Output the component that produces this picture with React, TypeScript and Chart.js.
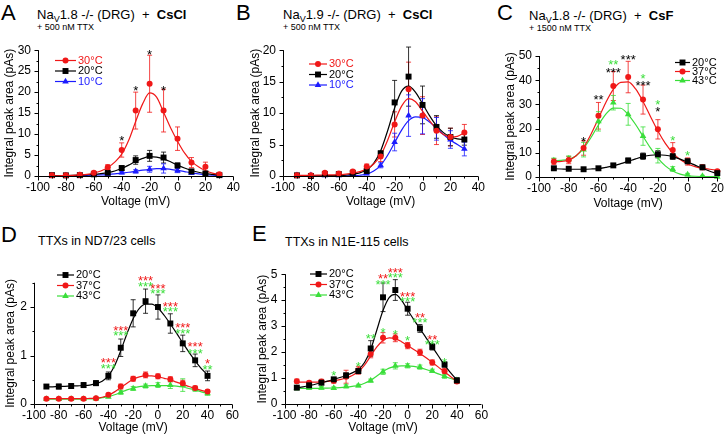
import React, { useEffect, useRef } from 'react';
import { Chart, registerables } from 'chart.js';
Chart.register(...registerables);

const FONT = '"Liberation Sans", Arial, Helvetica, sans-serif';
const RED = '#f01818';
const BLACK = '#000000';
const BLUE = '#1c1cff';
const GREEN = '#3ade3a';

// ---------------- Panel A : Nav1.8 -/- (DRG) + CsCl ----------------
const A_VOLTS = [-90, -80, -70, -60, -50, -40, -30, -20, -10, 0, 10, 20, 30];
const A_30C = [0.2, 0.2, 0.3, 0.8, 2.1, 6.2, 15.6, 22.0, 15.6, 8.9, 3.2, 2.2, 0.4];
const A_30C_ERR = [0.1, 0.1, 0.2, 0.3, 0.6, 1.7, 4.4, 6.8, 5.1, 2.8, 1.2, 1.1, 0.3];
const A_20C = [0.2, 0.15, 0.2, 0.4, 0.8, 1.9, 3.8, 4.8, 4.4, 2.5, 1.1, 0.6, 0.2];
const A_20C_ERR = [0.1, 0.1, 0.1, 0.2, 0.3, 0.5, 1.0, 1.3, 1.3, 0.6, 0.4, 0.3, 0.1];
const A_10C = [0.1, 0.1, 0.15, 0.2, 0.4, 0.8, 1.1, 1.6, 1.8, 1.3, 0.7, 0.3, 0.1];
const A_10C_ERR = [0.1, 0.1, 0.1, 0.1, 0.2, 0.3, 0.4, 0.7, 1.1, 0.5, 0.3, 0.2, 0.1];
const A_FIT_VOLTS = [-90, -85, -80, -75, -70, -65, -60, -55, -50, -45, -40, -35, -30, -25, -20, -15, -10, -5, 0, 5, 10, 15, 20, 25, 30];
const A_30C_FIT = [0.0, 0.05, 0.1, 0.15, 0.25, 0.4, 0.7, 1.2, 2.0, 3.3, 5.2, 8.5, 13.0, 17.2, 19.8, 18.8, 15.2, 11.5, 8.3, 5.5, 3.5, 2.2, 1.3, 0.7, 0.4];
const A_20C_FIT = [0.1, 0.1, 0.12, 0.15, 0.2, 0.28, 0.38, 0.55, 0.8, 1.2, 1.8, 2.6, 3.5, 4.2, 4.6, 4.5, 4.1, 3.4, 2.6, 1.9, 1.3, 0.9, 0.6, 0.4, 0.2];
const A_10C_FIT = [0.05, 0.05, 0.06, 0.07, 0.1, 0.13, 0.18, 0.25, 0.35, 0.5, 0.7, 0.9, 1.15, 1.4, 1.6, 1.75, 1.75, 1.6, 1.35, 1.05, 0.75, 0.5, 0.3, 0.18, 0.1];
const A_STAR_X = [-40, -30, -20, -10];
const A_STAR_Y = [9.2, 21.0, 29.7, 21.0];
const A_STAR_TEXT = ['*', '*', '*', '*'];

// ---------------- Panel B : Nav1.9 -/- (DRG) + CsCl ----------------
const B_VOLTS = [-90, -80, -70, -60, -50, -40, -30, -20, -10, 0, 10, 20, 30];
const B_30C = [0.1, 0.1, 0.5, 0.4, 0.7, 1.5, 3.1, 8.2, 13.8, 9.6, 7.2, 6.2, 6.9];
const B_30C_ERR = [0.1, 0.1, 0.2, 0.2, 0.2, 0.4, 0.8, 2.0, 4.3, 3.0, 2.2, 1.4, 1.3];
const B_20C = [0.1, 0.0, 0.3, 0.3, 0.5, 0.8, 3.6, 11.7, 15.8, 11.3, 7.8, 6.2, 5.8];
const B_20C_ERR = [0.1, 0.1, 0.1, 0.1, 0.2, 0.3, 0.4, 3.5, 4.7, 3.0, 1.8, 1.4, 0.9];
const B_10C = [0.1, 0.1, 0.1, 0.1, 0.2, 0.4, 1.7, 5.4, 9.6, 9.5, 7.5, 5.8, 4.3];
const B_10C_ERR = [0.1, 0.1, 0.1, 0.1, 0.1, 0.2, 0.4, 1.4, 3.3, 2.8, 1.8, 1.4, 1.1];
const B_FIT_VOLTS = [-90, -85, -80, -75, -70, -65, -60, -55, -50, -45, -40, -35, -30, -25, -20, -15, -10, -5, 0, 5, 10, 15, 20, 25, 30];
const B_30C_FIT = [0.1, 0.1, 0.12, 0.14, 0.16, 0.18, 0.2, 0.3, 0.45, 0.7, 1.1, 1.9, 3.3, 5.7, 8.6, 11.1, 12.3, 11.8, 10.3, 8.8, 7.5, 6.6, 6.2, 6.3, 6.9];
const B_20C_FIT = [0, 0, 0, 0.02, 0.05, 0.07, 0.1, 0.15, 0.25, 0.5, 1.0, 2.0, 4.0, 7.2, 10.8, 13.5, 14.3, 13.3, 11.5, 9.6, 8.0, 6.9, 6.2, 5.9, 5.8];
const B_10C_FIT = [0, 0, 0, 0, 0, 0, 0, 0.02, 0.05, 0.12, 0.3, 0.8, 1.7, 3.3, 5.3, 7.3, 8.8, 9.4, 9.3, 8.6, 7.6, 6.6, 5.7, 5.0, 4.3];

// ---------------- Panel C : Nav1.8 -/- (DRG) + CsF ----------------
const C_VOLTS = [-90, -80, -70, -60, -50, -40, -30, -20, -10, 0, 10, 20];
const C_20C = [3.6, 3.4, 3.2, 3.6, 4.8, 6.8, 8.6, 9.4, 8.5, 6.5, 4.0, 1.6];
const C_20C_ERR = [0.5, 0.5, 0.4, 0.5, 0.7, 1.0, 1.3, 1.5, 1.2, 1.0, 0.8, 0.5];
const C_37C = [6.4, 7.0, 12.0, 25.3, 37.6, 41.3, 32.0, 19.7, 11.2, 6.4, 4.0, 2.4];
const C_37C_ERR = [1.2, 1.5, 3.0, 5.5, 6.0, 6.5, 6.0, 4.0, 3.0, 1.5, 1.0, 0.6];
const C_43C = [6.8, 7.5, 11.3, 23.0, 30.7, 25.9, 16.9, 8.8, 3.3, 1.0, 0.4, 0.1];
const C_43C_ERR = [1.0, 1.2, 3.0, 4.0, 3.0, 4.5, 3.8, 3.0, 1.0, 0.5, 0.3, 0.2];
const C_FIT_VOLTS = [-90, -85, -80, -75, -70, -65, -60, -55, -50, -45, -40, -35, -30, -25, -20, -15, -10, -5, 0, 5, 10, 15, 20];
const C_20C_FIT = [3.4, 3.3, 3.2, 3.2, 3.2, 3.3, 3.5, 4.0, 4.6, 5.5, 6.5, 7.5, 8.4, 9.0, 9.2, 9.0, 8.4, 7.4, 6.2, 4.9, 3.6, 2.4, 1.4];
const C_37C_FIT = [6.3, 6.4, 7.0, 8.8, 12.3, 17.7, 24.2, 30.8, 36.2, 39.1, 39.3, 36.4, 31.2, 25.0, 19.0, 13.9, 10.0, 7.2, 5.4, 4.3, 3.6, 3.2, 2.8];
const C_43C_FIT = [6.8, 6.9, 7.3, 8.8, 11.8, 16.3, 21.5, 26.0, 28.5, 28.4, 25.8, 21.7, 16.8, 12.0, 7.8, 4.6, 2.5, 1.2, 0.6, 0.3, 0.2, 0.15, 0.1];
const C_STAR_X = [-70, -60, -50, -50, -40, -30, -30, -20, -20, -10, 0];
const C_STAR_Y = [16.0, 33.2, 47.6, 44.5, 50.0, 42.1, 39.1, 31.1, 28.1, 16.4, 10.0];
const C_STAR_TEXT = ['*', '**', '**', '***', '***', '*', '***', '*', '*', '*', '*'];
const C_STAR_SERIES = ['k', 'k', 'g', 'k', 'k', 'g', 'k', 'g', 'k', 'g', 'g'];

// ---------------- Panel D : TTXs in ND7/23 cells ----------------
const D_VOLTS = [-90, -80, -70, -60, -50, -40, -30, -20, -10, 0, 10, 20, 30, 40];
const D_20C = [0.36, 0.36, 0.37, 0.39, 0.43, 0.58, 1.16, 1.87, 2.12, 2.0, 1.66, 1.25, 0.9, 0.58];
const D_20C_ERR = [0.04, 0.05, 0.05, 0.05, 0.05, 0.08, 0.18, 0.28, 0.25, 0.25, 0.2, 0.17, 0.13, 0.1];
const D_37C = [0.11, 0.11, 0.11, 0.11, 0.12, 0.19, 0.36, 0.52, 0.6, 0.57, 0.51, 0.43, 0.33, 0.26];
const D_37C_ERR = [0.02, 0.02, 0.02, 0.02, 0.02, 0.03, 0.05, 0.05, 0.06, 0.05, 0.05, 0.06, 0.04, 0.03];
const D_43C = [0.1, 0.1, 0.1, 0.1, 0.11, 0.15, 0.24, 0.32, 0.37, 0.39, 0.39, 0.39, 0.31, 0.22];
const D_43C_ERR = [0.02, 0.02, 0.02, 0.02, 0.02, 0.02, 0.04, 0.04, 0.04, 0.05, 0.07, 0.13, 0.05, 0.04];
const D_FIT_VOLTS = [-90, -85, -80, -75, -70, -65, -60, -55, -50, -45, -40, -35, -30, -25, -20, -15, -10, -5, 0, 5, 10, 15, 20, 25, 30, 35, 40];
const D_20C_FIT = [0.35, 0.355, 0.36, 0.365, 0.37, 0.375, 0.38, 0.39, 0.42, 0.47, 0.58, 0.79, 1.1, 1.45, 1.76, 1.97, 2.06, 2.06, 1.98, 1.83, 1.65, 1.46, 1.26, 1.07, 0.89, 0.73, 0.6];
const D_37C_FIT = [0.11, 0.11, 0.11, 0.11, 0.11, 0.11, 0.11, 0.115, 0.12, 0.14, 0.18, 0.25, 0.34, 0.43, 0.51, 0.56, 0.58, 0.58, 0.56, 0.53, 0.5, 0.45, 0.41, 0.36, 0.32, 0.28, 0.25];
const D_43C_FIT = [0.1, 0.1, 0.1, 0.1, 0.1, 0.1, 0.1, 0.105, 0.11, 0.13, 0.15, 0.19, 0.24, 0.29, 0.33, 0.36, 0.37, 0.38, 0.38, 0.38, 0.38, 0.37, 0.35, 0.32, 0.29, 0.25, 0.22];
const D_STAR_X = [-40, -40, -30, -30, -10, -10, 0, 0, 10, 10, 20, 20, 30, 30, 40, 40];
const D_STAR_Y = [0.91, 0.79, 1.58, 1.47, 2.61, 2.49, 2.44, 2.33, 2.08, 1.96, 1.63, 1.51, 1.24, 1.11, 0.89, 0.78];
const D_STAR_TEXT = ['***', '***', '***', '***', '***', '***', '***', '***', '***', '***', '***', '***', '***', '***', '*', '**'];
const D_STAR_SERIES = ['r', 'g', 'r', 'g', 'r', 'g', 'r', 'g', 'r', 'g', 'r', 'g', 'r', 'g', 'r', 'g'];

// ---------------- Panel E : TTXs in N1E-115 cells ----------------
const E_VOLTS = [-90, -80, -70, -60, -50, -40, -30, -20, -10, 0, 10, 20, 30, 40];
const E_20C = [0.63, 0.72, 0.82, 0.95, 1.1, 1.27, 2.14, 4.11, 4.39, 3.67, 2.91, 2.2, 1.52, 0.91];
const E_20C_ERR = [0.05, 0.05, 0.06, 0.07, 0.1, 0.1, 0.3, 0.55, 0.4, 0.25, 0.15, 0.12, 0.1, 0.1];
const E_37C = [0.88, 0.82, 0.87, 0.9, 1.05, 1.3, 1.93, 2.55, 2.55, 2.25, 1.99, 1.6, 1.26, 0.87];
const E_37C_ERR = [0.08, 0.06, 0.08, 0.1, 0.25, 0.15, 0.15, 0.2, 0.15, 0.12, 0.12, 0.1, 0.1, 0.08];
const E_43C = [0.61, 0.62, 0.62, 0.61, 0.68, 0.71, 0.9, 1.24, 1.47, 1.47, 1.42, 1.28, 1.07, 0.91];
const E_43C_ERR = [0.07, 0.06, 0.05, 0.05, 0.06, 0.05, 0.06, 0.1, 0.12, 0.08, 0.08, 0.06, 0.08, 0.07];
const E_FIT_VOLTS = [-90, -85, -80, -75, -70, -65, -60, -55, -50, -45, -40, -35, -30, -25, -20, -15, -10, -5, 0, 5, 10, 15, 20, 25, 30, 35, 40];
const E_20C_FIT = [0.62, 0.66, 0.71, 0.76, 0.82, 0.88, 0.95, 1.02, 1.1, 1.2, 1.33, 1.6, 2.1, 2.85, 3.6, 4.1, 4.22, 4.0, 3.62, 3.25, 2.9, 2.55, 2.2, 1.85, 1.5, 1.2, 0.92];
const E_37C_FIT = [0.85, 0.84, 0.84, 0.84, 0.85, 0.87, 0.9, 0.94, 1.0, 1.1, 1.25, 1.5, 1.85, 2.2, 2.45, 2.55, 2.52, 2.4, 2.25, 2.1, 1.95, 1.78, 1.6, 1.42, 1.24, 1.05, 0.88];
const E_43C_FIT = [0.6, 0.6, 0.6, 0.6, 0.61, 0.61, 0.62, 0.63, 0.65, 0.68, 0.72, 0.8, 0.92, 1.08, 1.25, 1.38, 1.45, 1.47, 1.47, 1.45, 1.4, 1.33, 1.25, 1.16, 1.07, 0.98, 0.9];
const E_STAR_X = [-60, -40, -30, -20, -20, -20, -10, -10, -10, 0, 0, 0, 10, 10, 20, 20, 30];
const E_STAR_Y = [1.23, 1.57, 2.64, 2.87, 4.96, 4.71, 2.81, 5.17, 5.0, 2.55, 4.26, 4.05, 3.44, 3.25, 2.59, 2.39, 1.73];
const E_STAR_TEXT = ['*', '*', '**', '*', '**', '***', '*', '***', '***', '*', '***', '***', '**', '***', '**', '***', '*'];
const E_STAR_SERIES = ['g', 'g', 'g', 'g', 'r', 'g', 'g', 'r', 'g', 'g', 'r', 'g', 'r', 'g', 'r', 'g', 'g'];

const SERIES_COLOR: Record<string, string> = { r: RED, g: GREEN, k: BLACK, b: BLUE };

type Series = { label: string; color: string; style: 'circle' | 'rect' | 'triangle'; values: number[]; errors: number[]; fit: number[] };
type Note = { x: number; y: number; text: string; color: string };
type PanelCfg = {
  box: { left: number; top: number; width: number; height: number };
  padTop: number; padRight: number; yW: number; xH: number;
  xMin: number; xMax: number; xMajor: number; xMinor: number;
  yMin: number; yMax: number; yMajor: number; yMinor: number;
  volts: number[]; fitVolts: number[]; series: Series[]; notes: Note[];
  legend: { x1: number; x2: number; textX: number; rows: number[]; colored: boolean };
};

function notes(xs: number[], ys: number[], texts: string[], keys: string[] | null): Note[] {
  return xs.map((x, i) => ({ x, y: ys[i], text: texts[i], color: keys ? SERIES_COLOR[keys[i]] : BLACK }));
}

function alpha(hex: string, a: number) {
  const n = parseInt(hex.slice(1), 16);
  return `rgba(${(n >> 16) & 255},${(n >> 8) & 255},${n & 255},${a})`;
}

function drawMarker(ctx: CanvasRenderingContext2D, style: string, x: number, y: number, r: number) {
  ctx.beginPath();
  if (style === 'circle') {
    ctx.arc(x, y, r, 0, Math.PI * 2);
  } else if (style === 'rect') {
    const s = r * Math.SQRT1_2;
    ctx.rect(x - s, y - s, 2 * s, 2 * s);
  } else {
    ctx.moveTo(x, y - r);
    ctx.lineTo(x + r * 0.866, y + r * 0.5);
    ctx.lineTo(x - r * 0.866, y + r * 0.5);
    ctx.closePath();
  }
  ctx.fill();
}

const radiusFor = (style: string) => (style === 'rect' ? 4.2 : style === 'triangle' ? 3.8 : 3);

function makePlugin(cfg: PanelCfg) {
  return {
    id: 'decor',
    beforeDatasetsDraw(chart: any) {
      const ctx = chart.ctx as CanvasRenderingContext2D;
      const xs = chart.scales.x;
      const ys = chart.scales.y;
      cfg.series.forEach((s) => {
        ctx.save();
        ctx.strokeStyle = alpha(s.color, 0.8);
        ctx.lineWidth = 1;
        ctx.beginPath();
        cfg.volts.forEach((v, j) => {
          const px = xs.getPixelForValue(v);
          const y1 = ys.getPixelForValue(s.values[j] + s.errors[j]);
          const y2 = ys.getPixelForValue(s.values[j] - s.errors[j]);
          ctx.moveTo(px, y1); ctx.lineTo(px, y2);
          ctx.moveTo(px - 2.5, y1); ctx.lineTo(px + 2.5, y1);
          ctx.moveTo(px - 2.5, y2); ctx.lineTo(px + 2.5, y2);
        });
        ctx.stroke();
        ctx.restore();
      });
    },
    afterDraw(chart: any) {
      const ctx = chart.ctx as CanvasRenderingContext2D;
      const xs = chart.scales.x;
      const ys = chart.scales.y;
      const { left, right, top, bottom } = chart.chartArea;
      ctx.save();
      // axes
      ctx.strokeStyle = '#000';
      ctx.lineWidth = 1;
      ctx.beginPath();
      const L = Math.round(left) + 0.5;
      const B = Math.round(bottom) + 0.5;
      ctx.moveTo(L, top); ctx.lineTo(L, B); ctx.lineTo(right, B);
      // x ticks
      const nx = Math.round((cfg.xMax - cfg.xMin) / cfg.xMinor);
      for (let i = 0; i <= nx; i++) {
        const v = cfg.xMin + i * cfg.xMinor;
        const major = Math.abs(v / cfg.xMajor - Math.round(v / cfg.xMajor)) < 1e-6;
        const px = Math.round(xs.getPixelForValue(v)) + 0.5;
        ctx.moveTo(px, B); ctx.lineTo(px, B + (major ? 4 : 2));
      }
      const ny = Math.round((cfg.yMax - cfg.yMin) / cfg.yMinor);
      for (let i = 0; i <= ny; i++) {
        const v = cfg.yMin + i * cfg.yMinor;
        const major = Math.abs(v / cfg.yMajor - Math.round(v / cfg.yMajor)) < 1e-6;
        const py = Math.round(ys.getPixelForValue(v)) + 0.5;
        ctx.moveTo(L, py); ctx.lineTo(L - (major ? 4 : 2), py);
      }
      ctx.stroke();
      // significance stars
      ctx.font = `13px ${FONT}`;
      ctx.textAlign = 'center';
      ctx.textBaseline = 'alphabetic';
      cfg.notes.forEach((n) => {
        ctx.fillStyle = n.color;
        ctx.fillText(n.text, xs.getPixelForValue(n.x), ys.getPixelForValue(n.y) + 7.5);
      });
      // legend
      const lg = cfg.legend;
      ctx.font = `11px ${FONT}`;
      ctx.textAlign = 'left';
      ctx.textBaseline = 'middle';
      cfg.series.forEach((s, i) => {
        const y = lg.rows[i] - cfg.box.top;
        const x1 = lg.x1 - cfg.box.left;
        const x2 = lg.x2 - cfg.box.left;
        ctx.strokeStyle = s.color;
        ctx.lineWidth = 1.2;
        ctx.beginPath(); ctx.moveTo(x1, y); ctx.lineTo(x2, y); ctx.stroke();
        ctx.fillStyle = s.color;
        drawMarker(ctx, s.style, (x1 + x2) / 2, y, radiusFor(s.style));
        ctx.fillStyle = lg.colored ? s.color : BLACK;
        ctx.fillText(s.label, lg.textX - cfg.box.left, y);
      });
      ctx.restore();
    },
  };
}

function Panel({ cfg }: { cfg: PanelCfg }) {
  const ref = useRef<HTMLCanvasElement>(null);
  useEffect(() => {
    const pointSets = cfg.series.map((s) => ({
      label: s.label,
      data: cfg.volts.map((v, i) => ({ x: v, y: s.values[i] })),
      showLine: false,
      pointStyle: s.style,
      pointRadius: radiusFor(s.style),
      pointBackgroundColor: s.color,
      pointBorderColor: s.color,
      pointBorderWidth: 0,
      borderColor: s.color,
      clip: false,
    }));
    const fitSets = cfg.series.map((s) => ({
      label: s.label + ' fit',
      data: cfg.fitVolts.map((v, i) => ({ x: v, y: s.fit[i] })),
      borderColor: s.color,
      borderWidth: 1.2,
      pointRadius: 0,
      pointHitRadius: 0,
      cubicInterpolationMode: 'monotone',
      fill: false,
      clip: false,
    }));
    const tickFont = { family: FONT, size: 12 };
    const chart = new Chart(ref.current as HTMLCanvasElement, {
      type: 'line',
      data: { datasets: [...pointSets, ...fitSets] as any },
      options: {
        responsive: false,
        maintainAspectRatio: false,
        animation: false,
        devicePixelRatio: 1,
        events: [],
        layout: { autoPadding: false, padding: { left: 0, top: cfg.padTop, right: cfg.padRight, bottom: 0 } },
        plugins: { legend: { display: false }, tooltip: { enabled: false } },
        scales: {
          x: {
            type: 'linear',
            min: cfg.xMin,
            max: cfg.xMax,
            afterFit: (s: any) => { s.height = cfg.xH; },
            grid: { display: false, drawTicks: false },
            border: { display: false },
            ticks: { stepSize: cfg.xMajor, autoSkip: false, maxRotation: 0, padding: 4, color: '#000', font: tickFont, callback: (v: any) => String(v) },
            title: { display: true, text: 'Voltage (mV)', color: '#000', font: tickFont, padding: { top: 0, bottom: 0 } },
          },
          y: {
            type: 'linear',
            min: cfg.yMin,
            max: cfg.yMax,
            afterFit: (s: any) => { s.width = cfg.yW; },
            grid: { display: false, drawTicks: false },
            border: { display: false },
            ticks: { stepSize: cfg.yMajor, includeBounds: false, padding: 7, color: '#000', font: tickFont, callback: (v: any) => String(v) },
            title: { display: true, text: 'Integral peak area (pAs)', color: '#000', font: tickFont, padding: { top: 2, bottom: 0 } },
          },
        },
      } as any,
      plugins: [makePlugin(cfg) as any],
    });
    return () => chart.destroy();
  }, [cfg]);
  const b = cfg.box;
  return (
    <canvas
      ref={ref}
      width={b.width}
      height={b.height}
      style={{ position: 'absolute', left: b.left, top: b.top, width: b.width, height: b.height }}
    />
  );
}

const PANEL_A: PanelCfg = {
  box: { left: 0, top: 36, width: 244, height: 173 }, padTop: 7, padRight: 10, yW: 38, xH: 33,
  xMin: -100, xMax: 40, xMajor: 20, xMinor: 10, yMin: 0, yMax: 30, yMajor: 5, yMinor: 2.5,
  volts: A_VOLTS, fitVolts: A_FIT_VOLTS,
  series: [
    { label: '30°C', color: RED, style: 'circle', values: A_30C, errors: A_30C_ERR, fit: A_30C_FIT },
    { label: '20°C', color: BLACK, style: 'rect', values: A_20C, errors: A_20C_ERR, fit: A_20C_FIT },
    { label: '10°C', color: BLUE, style: 'triangle', values: A_10C, errors: A_10C_ERR, fit: A_10C_FIT },
  ],
  notes: notes(A_STAR_X, A_STAR_Y, A_STAR_TEXT, null),
  legend: { x1: 55, x2: 76, textX: 78, rows: [60.5, 71, 81.5], colored: true },
};

const PANEL_B: PanelCfg = {
  box: { left: 246, top: 36, width: 243, height: 173 }, padTop: 12, padRight: 10, yW: 37, xH: 33,
  xMin: -100, xMax: 40, xMajor: 20, xMinor: 10, yMin: 0, yMax: 20, yMajor: 5, yMinor: 2.5,
  volts: B_VOLTS, fitVolts: B_FIT_VOLTS,
  series: [
    { label: '30°C', color: RED, style: 'circle', values: B_30C, errors: B_30C_ERR, fit: B_30C_FIT },
    { label: '20°C', color: BLACK, style: 'rect', values: B_20C, errors: B_20C_ERR, fit: B_20C_FIT },
    { label: '10°C', color: BLUE, style: 'triangle', values: B_10C, errors: B_10C_ERR, fit: B_10C_FIT },
  ],
  notes: [],
  legend: { x1: 309, x2: 327, textX: 329, rows: [64, 74.5, 85], colored: true },
};

const PANEL_C: PanelCfg = {
  box: { left: 501, top: 36, width: 227, height: 175 }, padTop: 20, padRight: 7, yW: 38, xH: 34,
  xMin: -100, xMax: 20, xMajor: 20, xMinor: 10, yMin: 0, yMax: 50, yMajor: 10, yMinor: 5,
  volts: C_VOLTS, fitVolts: C_FIT_VOLTS,
  series: [
    { label: '20°C', color: BLACK, style: 'rect', values: C_20C, errors: C_20C_ERR, fit: C_20C_FIT },
    { label: '37°C', color: RED, style: 'circle', values: C_37C, errors: C_37C_ERR, fit: C_37C_FIT },
    { label: '43°C', color: GREEN, style: 'triangle', values: C_43C, errors: C_43C_ERR, fit: C_43C_FIT },
  ],
  notes: notes(C_STAR_X, C_STAR_Y, C_STAR_TEXT, C_STAR_SERIES),
  legend: { x1: 675, x2: 690, textX: 692, rows: [62.5, 71.5, 80.5], colored: false },
};

const PANEL_D: PanelCfg = {
  box: { left: 1, top: 260, width: 242, height: 175 }, padTop: 22.75, padRight: 10.5, yW: 33, xH: 31,
  xMin: -100, xMax: 60, xMajor: 20, xMinor: 10, yMin: 0, yMax: 2.5, yMajor: 1, yMinor: 0.5,
  volts: D_VOLTS, fitVolts: D_FIT_VOLTS,
  series: [
    { label: '20°C', color: BLACK, style: 'rect', values: D_20C, errors: D_20C_ERR, fit: D_20C_FIT },
    { label: '37°C', color: RED, style: 'circle', values: D_37C, errors: D_37C_ERR, fit: D_37C_FIT },
    { label: '43°C', color: GREEN, style: 'triangle', values: D_43C, errors: D_43C_ERR, fit: D_43C_FIT },
  ],
  notes: notes(D_STAR_X, D_STAR_Y, D_STAR_TEXT, D_STAR_SERIES),
  legend: { x1: 57, x2: 74, textX: 76, rows: [275, 285.5, 296], colored: false },
};

const PANEL_E: PanelCfg = {
  box: { left: 253, top: 260, width: 240, height: 175 }, padTop: 12, padRight: 11.5, yW: 31.5, xH: 31,
  xMin: -100, xMax: 60, xMajor: 20, xMinor: 10, yMin: 0, yMax: 5, yMajor: 1, yMinor: 0.5,
  volts: E_VOLTS, fitVolts: E_FIT_VOLTS,
  series: [
    { label: '20°C', color: BLACK, style: 'rect', values: E_20C, errors: E_20C_ERR, fit: E_20C_FIT },
    { label: '37°C', color: RED, style: 'circle', values: E_37C, errors: E_37C_ERR, fit: E_37C_FIT },
    { label: '43°C', color: GREEN, style: 'triangle', values: E_43C, errors: E_43C_ERR, fit: E_43C_FIT },
  ],
  notes: notes(E_STAR_X, E_STAR_Y, E_STAR_TEXT, E_STAR_SERIES),
  legend: { x1: 310, x2: 327, textX: 329, rows: [274, 284.5, 295], colored: false },
};

const abs = (left: number, top: number, size: number, extra: React.CSSProperties = {}): React.CSSProperties => ({
  position: 'absolute', left, top, fontSize: size, lineHeight: `${size}px`, whiteSpace: 'nowrap', color: '#000', ...extra,
});

const subV: React.CSSProperties = { fontSize: 9, position: 'relative', top: 3 };

function NavTitle({ left, top, gene, salt, ttx }: { left: number; top: number; gene: string; salt: string; ttx: string }) {
  return (
    <>
      <div style={abs(left, top, 13)}>
        Na<span style={subV}>V</span>{gene} -/- (DRG)&nbsp;&nbsp;+&nbsp;&nbsp;<b>{salt}</b>
      </div>
      <div style={abs(left, top + 15, 9)}>{ttx}</div>
    </>
  );
}

export default function App() {
  return (
    <div style={{ position: 'absolute', left: 0, top: 0, width: 728, height: 437, background: '#fff', fontFamily: FONT, overflow: 'hidden' }}>
      <div style={abs(1, 1.5, 22)}>A</div>
      <div style={abs(236, 1.5, 22)}>B</div>
      <div style={abs(497, 1.5, 22)}>C</div>
      <div style={abs(1, 224, 22)}>D</div>
      <div style={abs(252, 223, 22)}>E</div>
      <NavTitle left={37} top={7.5} gene="1.8" salt="CsCl" ttx="+ 500 nM TTX" />
      <NavTitle left={283} top={7.5} gene="1.9" salt="CsCl" ttx="+ 500 nM TTX" />
      <NavTitle left={529} top={9} gene="1.8" salt="CsF" ttx="+ 1500 nM TTX" />
      <div style={abs(38, 234.5, 12.5)}>TTXs in ND7/23 cells</div>
      <div style={abs(285, 236, 12.5)}>TTXs in N1E-115 cells</div>
      <Panel cfg={PANEL_A} />
      <Panel cfg={PANEL_B} />
      <Panel cfg={PANEL_C} />
      <Panel cfg={PANEL_D} />
      <Panel cfg={PANEL_E} />
    </div>
  );
}
